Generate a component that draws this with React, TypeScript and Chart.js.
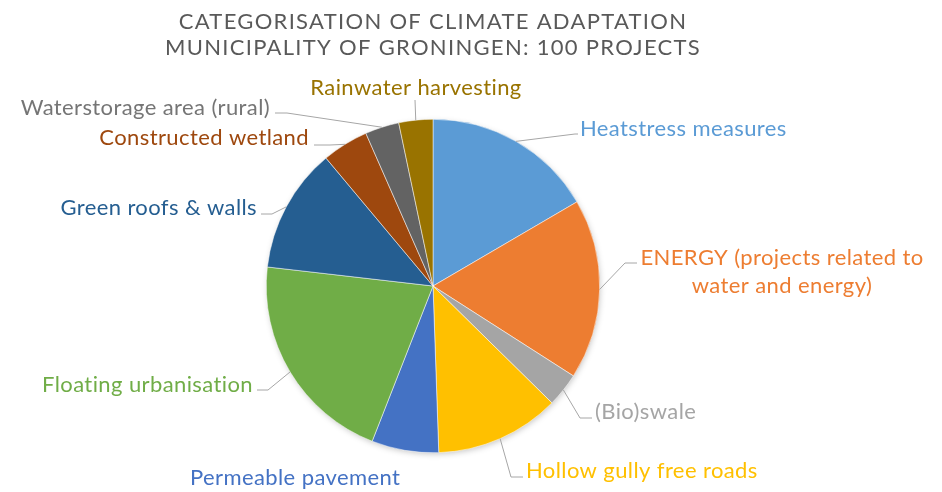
import React, { useEffect, useRef } from "react";
import { Chart, registerables } from "chart.js";

Chart.register(...registerables);

const TITLE_LINES = ["CATEGORISATION OF CLIMATE ADAPTATION", "MUNICIPALITY OF GRONINGEN: 100 PROJECTS"];

const categories = [
  ["Heatstress measures"],
  ["ENERGY (projects related to", "water and energy)"],
  ["(Bio)swale"],
  ["Hollow gully free roads"],
  ["Permeable pavement"],
  ["Floating urbanisation"],
  ["Green roofs & walls"],
  ["Constructed wetland"],
  ["Waterstorage area (rural)"],
  ["Rainwater harvesting"],
];

const projectCounts = [16.6, 17.5, 3.3, 12.1, 6.5, 20.9, 12.1, 4.5, 3.3, 3.3];

const sliceColors = [
  "#5B9BD5",
  "#ED7D31",
  "#A5A5A5",
  "#FFC000",
  "#4472C4",
  "#70AD47",
  "#255E91",
  "#9E480E",
  "#636363",
  "#997300",
];

const labelColors = [
  "#5B9BD5",
  "#ED7D31",
  "#A5A5A5",
  "#FFC000",
  "#4472C4",
  "#70AD47",
  "#255E91",
  "#9E480E",
  "#757575",
  "#997300",
];

// label layout (pixel positions of label text and leader elbows)
type LabelPos = { x: number; y: number; align: CanvasTextAlign; elbow: number[] | null; end: number[] | null };
const labelLayout: LabelPos[] = [
  { x: 580, y: 129, align: "left", elbow: [575, 134], end: [578, 134] },
  { x: 782, y: 258, align: "center", elbow: [625, 263], end: [637, 263] },
  { x: 595, y: 412, align: "left", elbow: [580, 418], end: [592, 418] },
  { x: 526, y: 471, align: "left", elbow: [511, 477], end: [523, 477] },
  { x: 190, y: 478, align: "left", elbow: null, end: null },
  { x: 253, y: 385, align: "right", elbow: [268, 390], end: [257, 390] },
  { x: 257, y: 208, align: "right", elbow: [272, 214], end: [261, 214] },
  { x: 309, y: 138, align: "right", elbow: [330, 145], end: [314, 145] },
  { x: 270, y: 108, align: "right", elbow: [287, 113], end: [275, 113] },
  { x: 416, y: 88, align: "center", elbow: [415, 100], end: [415, 100] },
];

const FONT = "Lato, 'Open Sans', sans-serif";

const labelPlugin = {
  id: "pieLabels",
  afterDraw(chart: any) {
    const ctx = chart.ctx as any;
    ctx.save();
    // title
    ctx.fillStyle = "#595959";
    ctx.font = `22px ${FONT}`;
    ctx.letterSpacing = "1.3px";
    ctx.textAlign = "center";
    ctx.textBaseline = "middle";
    TITLE_LINES.forEach((t, i) => ctx.fillText(t, 433, 22 + i * 26));

    ctx.letterSpacing = "0.4px";
    const meta = chart.getDatasetMeta(0);
    meta.data.forEach((arc: any, i: number) => {
      const lp = labelLayout[i];
      const mid = (arc.startAngle + arc.endAngle) / 2;
      const ax = arc.x + Math.cos(mid) * arc.outerRadius;
      const ay = arc.y + Math.sin(mid) * arc.outerRadius;
      if (lp.elbow && lp.end) {
        ctx.strokeStyle = "#A6A6A6";
        ctx.lineWidth = 1;
        ctx.beginPath();
        ctx.moveTo(ax, ay);
        ctx.lineTo(lp.elbow[0], lp.elbow[1]);
        ctx.lineTo(lp.end[0], lp.end[1]);
        ctx.stroke();
      }
      ctx.fillStyle = labelColors[i];
      ctx.font = `22px ${FONT}`;
      ctx.textAlign = lp.align;
      ctx.textBaseline = "middle";
      categories[i].forEach((line, j) => ctx.fillText(line, lp.x, lp.y + j * 28));
    });
    ctx.restore();
  },
};

const shadowPlugin = {
  id: "pieShadow",
  beforeDatasetsDraw(chart: any) {
    const meta = chart.getDatasetMeta(0);
    const a = meta.data[0];
    if (!a) return;
    const ctx = chart.ctx as CanvasRenderingContext2D;
    ctx.save();
    ctx.shadowColor = "rgba(0,0,0,0.25)";
    ctx.shadowBlur = 6;
    ctx.shadowOffsetX = 1;
    ctx.shadowOffsetY = 2;
    ctx.fillStyle = "#ffffff";
    ctx.beginPath();
    ctx.arc(a.x, a.y, a.outerRadius - 1, 0, Math.PI * 2);
    ctx.fill();
    ctx.restore();
  },
};

export default function App() {
  const ref = useRef<HTMLCanvasElement>(null);
  useEffect(() => {
    if (!ref.current) return;
    const chart = new Chart(ref.current, {
      type: "pie",
      data: {
        labels: categories.map((c) => c.join(" ")),
        datasets: [
          {
            data: projectCounts,
            backgroundColor: sliceColors,
            borderColor: "#ffffff",
            borderWidth: 0.5,
          },
        ],
      },
      options: {
        animation: false,
        responsive: false,
        layout: { padding: { top: 119, bottom: 39, left: 266, right: 342 } },
        plugins: {
          legend: { display: false },
          tooltip: { enabled: false },
          title: { display: false },
        },
      },
      plugins: [shadowPlugin, labelPlugin],
    });
    return () => chart.destroy();
  }, []);
  return (
    <div style={{ position: "fixed", left: 0, top: 0, width: 942, height: 492, background: "#fff" }}>
      <canvas ref={ref} width={942} height={492} style={{ width: 942, height: 492, display: "block" }} />
    </div>
  );
}
